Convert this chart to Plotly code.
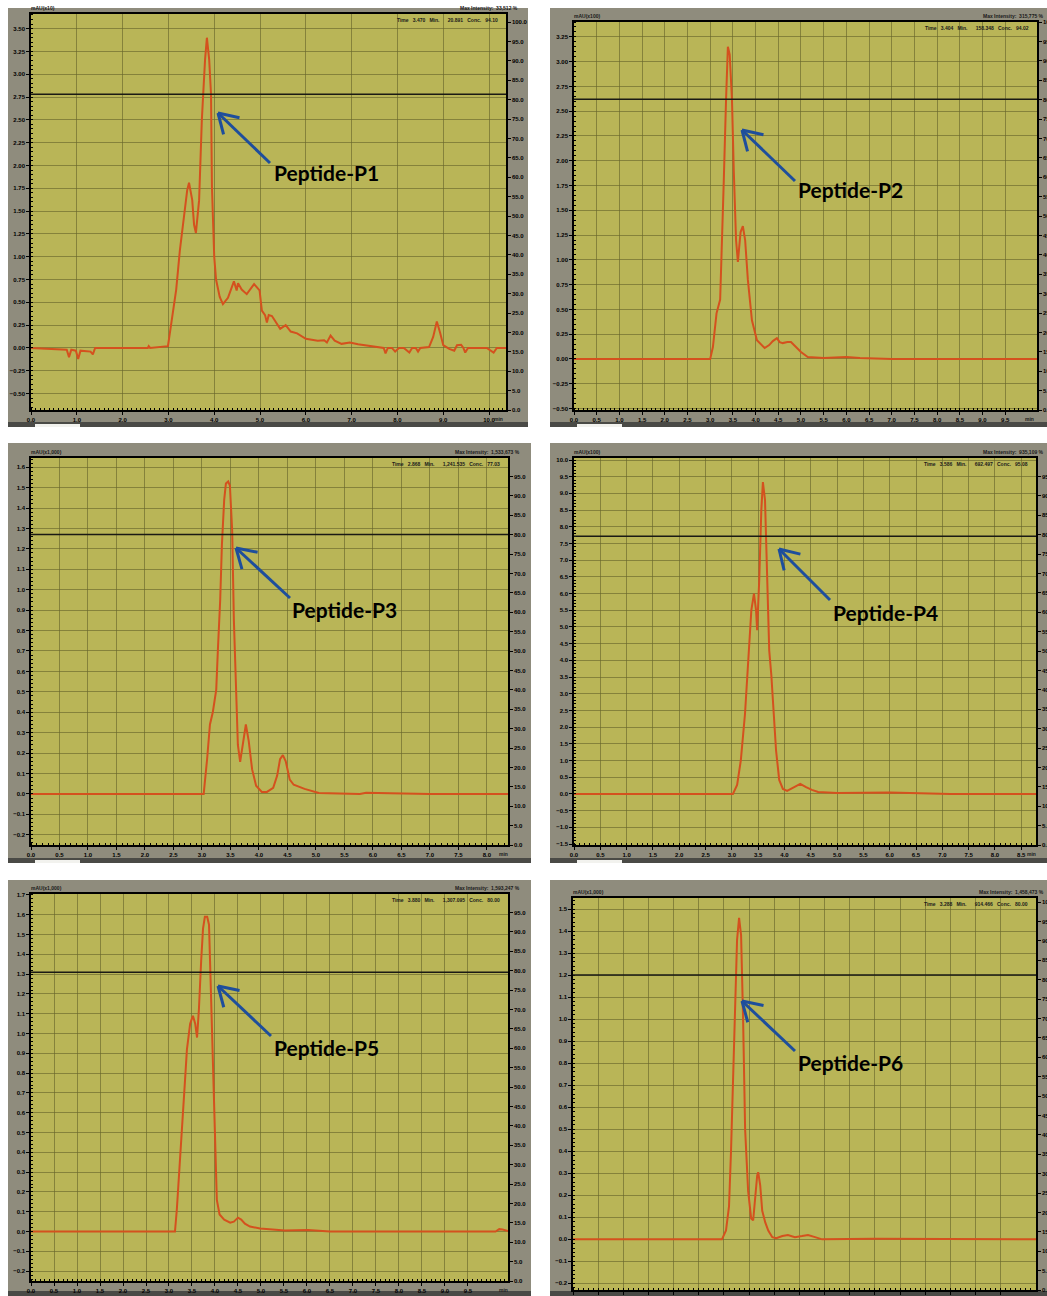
import math
import plotly.graph_objects as go

W, H = 1047, 1296

# ---- chromatogram data: retention time (min) and detector signal ----
p1_time = [0.0, 0.5, 0.78, 0.83, 0.88, 0.98, 1.03, 1.08, 1.3, 1.35, 1.4, 2.0, 2.55, 2.57, 2.6, 2.99,
           3.08, 3.17, 3.25, 3.34, 3.41, 3.45, 3.52, 3.56, 3.6, 3.67, 3.73, 3.8, 3.84, 3.89, 3.93,
           3.95, 4.0, 4.04, 4.12, 4.19, 4.3, 4.43, 4.49, 4.52, 4.6, 4.71, 4.87, 4.99, 5.04, 5.11,
           5.15, 5.19, 5.26, 5.44, 5.56, 5.67, 5.81, 6.0, 6.26, 6.4, 6.46, 6.54, 6.63, 6.78, 6.96,
           7.14, 7.44, 7.7, 7.74, 7.79, 7.88, 7.95, 8.03, 8.14, 8.26, 8.32, 8.4, 8.45, 8.5, 8.69,
           8.78, 8.86, 8.93, 9.0, 9.13, 9.24, 9.3, 9.39, 9.44, 9.48, 9.54, 9.95, 10.1, 10.17, 10.37]
p1_signal = [0.0, -0.01, -0.02, -0.1, -0.02, -0.03, -0.12, -0.03, -0.04, -0.07, 0.0, 0.0, 0.0, 0.02, 0.0, 0.02,
             0.31, 0.64, 1.07, 1.46, 1.73, 1.81, 1.62, 1.35, 1.26, 1.62, 2.5, 3.16, 3.4, 3.16, 2.78,
             1.77, 1.0, 0.75, 0.56, 0.48, 0.55, 0.73, 0.63, 0.71, 0.64, 0.59, 0.7, 0.63, 0.41, 0.36,
             0.28, 0.36, 0.35, 0.21, 0.25, 0.18, 0.16, 0.1, 0.08, 0.085, 0.06, 0.135, 0.08, 0.045, 0.06,
             0.04, 0.02, 0.0, -0.06, 0.0, 0.0, -0.04, 0.0, 0.0, -0.05, 0.0, 0.0, -0.04, 0.0, 0.01,
             0.12, 0.29, 0.17, 0.03, -0.01, -0.03, 0.03, 0.035, 0.0, -0.05, 0.0, 0.0, -0.05, 0.0, 0.0]

p2_time = [0.0, 3.0, 3.06, 3.14, 3.22, 3.26, 3.3, 3.35, 3.39, 3.43, 3.48, 3.52, 3.57, 3.61, 3.67,
           3.72, 3.77, 3.83, 3.92, 4.03, 4.2, 4.3, 4.38, 4.47, 4.53, 4.6, 4.7, 4.78, 4.9, 5.0, 5.15,
           5.5, 6.0, 6.3, 7.0, 9.0, 9.3, 10.2]
p2_signal = [0.0, 0.0, 0.12, 0.46, 0.6, 1.1, 1.8, 2.62, 3.15, 3.07, 2.62, 1.9, 1.2, 0.98, 1.28,
             1.34, 1.2, 0.8, 0.39, 0.19, 0.11, 0.14, 0.18, 0.21, 0.17, 0.16, 0.17, 0.17, 0.12, 0.07, 0.02,
             0.01, 0.02, 0.01, 0.0, 0.0, 0.005, 0.0]

p3_time = [0.0, 3.03, 3.09, 3.14, 3.19, 3.25, 3.28, 3.32, 3.35, 3.39, 3.42, 3.46, 3.49, 3.53, 3.56,
           3.6, 3.63, 3.67, 3.72, 3.77, 3.82, 3.88, 3.95, 4.05, 4.14, 4.25, 4.32, 4.37, 4.42, 4.47,
           4.54, 4.61, 4.8, 5.05, 5.77, 5.88, 6.3, 7.0, 8.37]
p3_signal = [0.0, 0.0, 0.17, 0.34, 0.4, 0.51, 0.71, 0.95, 1.22, 1.44, 1.52, 1.53, 1.51, 1.29, 0.85,
             0.46, 0.24, 0.157, 0.26, 0.34, 0.26, 0.12, 0.04, 0.01, 0.01, 0.03, 0.09, 0.17, 0.19, 0.16,
             0.07, 0.045, 0.025, 0.005, 0.0, 0.006, 0.004, 0.0, 0.0]

p4_time = [0.0, 3.02, 3.1, 3.17, 3.25, 3.31, 3.37, 3.42, 3.46, 3.48, 3.52, 3.56, 3.59, 3.63, 3.67,
           3.71, 3.75, 3.78, 3.84, 3.9, 3.97, 4.05, 4.16, 4.3, 4.41, 4.52, 4.64, 5.0, 6.0, 6.5, 7.15, 8.78]
p4_signal = [0.0, 0.0, 0.27, 1.0, 2.4, 4.0, 5.5, 6.0, 5.5, 4.9, 6.4, 8.5, 9.34, 8.8, 6.4,
             4.3, 3.56, 2.8, 1.3, 0.42, 0.15, 0.09, 0.18, 0.3, 0.2, 0.12, 0.06, 0.03, 0.04, 0.03, 0.0, 0.0]

p5_time = [0.0, 3.13, 3.17, 3.22, 3.26, 3.3, 3.35, 3.39, 3.46, 3.52, 3.57, 3.61, 3.65, 3.7, 3.74,
           3.78, 3.83, 3.87, 3.91, 3.96, 4.0, 4.04, 4.1, 4.2, 4.33, 4.41, 4.5, 4.57, 4.65, 4.76, 4.98,
           5.52, 6.02, 6.5, 10.1, 10.18, 10.25, 10.37]
p5_signal = [0.0, 0.0, 0.11, 0.31, 0.46, 0.57, 0.77, 0.92, 1.05, 1.09, 1.05, 0.98, 1.12, 1.37, 1.53,
             1.59, 1.59, 1.55, 1.22, 0.77, 0.36, 0.16, 0.086, 0.06, 0.045, 0.05, 0.07, 0.06, 0.04, 0.025, 0.015,
             0.005, 0.008, 0.0, 0.0, 0.012, 0.01, 0.003]

p6_time = [0.0, 2.96, 3.04, 3.1, 3.14, 3.18, 3.22, 3.26, 3.3, 3.34, 3.38, 3.42, 3.48, 3.54, 3.58,
           3.62, 3.66, 3.68, 3.72, 3.76, 3.82, 3.88, 3.96, 4.04, 4.16, 4.27, 4.41, 4.55, 4.67, 4.81,
           4.95, 6.0, 8.0, 9.2]
p6_signal = [0.0, 0.0, 0.04, 0.15, 0.4, 0.72, 1.09, 1.36, 1.46, 1.38, 1.0, 0.5, 0.22, 0.095, 0.086,
             0.2, 0.29, 0.305, 0.245, 0.13, 0.077, 0.04, 0.01, 0.005, 0.015, 0.02, 0.01, 0.015, 0.02, 0.01,
             0.0, 0.003, 0.0, 0.0]

times = [p1_time, p2_time, p3_time, p4_time, p5_time, p6_time]
signals = [p1_signal, p2_signal, p3_signal, p4_signal, p5_signal, p6_signal]

# level of the horizontal cursor line in each run
cursor_levels = [2.78, 2.62, 1.27, 7.72, 1.31, 1.20]

peptide_labels = ["Peptide-P1", "Peptide-P2", "Peptide-P3", "Peptide-P4", "Peptide-P5", "Peptide-P6"]
y_titles = ["mAU(x10)", "mAU(x100)", "mAU(x1,000)", "mAU(x100)", "mAU(x1,000)", "mAU(x1,000)"]
header_max = ["Max Intensity:  33,512 %", "Max Intensity:  315,775 %", "Max Intensity:  1,533,673 %",
              "Max Intensity:  935,109 %", "Max Intensity:  1,593,247 %", "Max Intensity:  1,458,473 %"]
header_time = ["Time   3.470   Min.      20.891   Conc.   94.10",
               "Time   3.404   Min.      158.348   Conc.   94.02",
               "Time   2.868   Min.      1,241.535   Conc.   77.03",
               "Time   3.586   Min.      692.497   Conc.   95.08",
               "Time   3.880   Min.      1,307.095   Conc.   80.00",
               "Time   3.288   Min.      914.466   Conc.   80.00"]

# time-axis labelling: spacing and last labelled value of each run
x_steps = [1.0, 0.5, 0.5, 0.5, 0.5, 0.5]
x_last_tick = [10.0, 9.5, 8.0, 8.5, 9.5, 8.5]

# ---- panel geometry in page pixels ----
plot_boxes = [(31, 14, 506, 410), (574, 22, 1037, 410),
              (31, 458, 508, 845), (574, 458, 1036, 845),
              (31, 894, 508, 1281), (573, 898, 1036, 1290)]
frame_boxes = [(8, 8, 528, 427), (550, 8, 1047, 427),
               (8, 443, 531, 863), (550, 443, 1047, 863),
               (8, 880, 531, 1296), (550, 880, 1047, 1296)]
x_ranges = [(0, 10.37), (0, 10.2), (0, 8.37), (0, 8.78), (0, 10.37), (0, 9.2)]
y_ranges = [(-0.68, 3.66), (-0.515, 3.40), (-0.25, 1.645), (-1.53, 10.06), (-0.25, 1.705), (-0.23, 1.55)]
y_steps = [0.25, 0.25, 0.1, 0.5, 0.1, 0.1]
y_formats = [".2f", ".2f", ".1f", ".1f", ".1f", ".1f"]
min_label_x = [498, 1029, 503, 1031, 503, 1027]
arrows = [((270, 163), (218, 113)), ((795, 181), (742, 130)),
          ((290, 598), (236, 548)), ((830, 600), (779, 549)),
          ((271, 1036), (218, 986)), ((795, 1051), (742, 1001))]
label_pos = [(272, 173), (796, 190), (290, 609), (831, 612), (272, 1047), (796, 1062)]

PLOT_BG = "#B9B557"
FRAME = "#8F8C7D"
GRID = "rgba(105,103,45,0.65)"
TRACE = "#D4511E"
ARROW = "#1E4E9C"


def px(x):
    return x / W


def py(y):
    return 1 - y / H


fig = go.Figure()
layout = dict(width=W, height=H, margin=dict(l=0, r=0, t=0, b=0),
              paper_bgcolor="white", plot_bgcolor=PLOT_BG, showlegend=False)
shapes = []
annotations = []
tick_font = dict(family="Liberation Sans, Arial", size=6, color="black", weight="bold")
small = dict(family="Liberation Sans, Arial", size=5, color="#1A1A1A", weight="bold")

for i in range(6):
    n = i + 1
    xs = "" if n == 1 else str(n)
    x0, y0, x1, y1 = plot_boxes[i]
    fx0, fy0, fx1, fy1 = frame_boxes[i]

    # grey instrument-window frame, dark status bar with its light tab, and the yellow chart area
    shapes.append(dict(type="rect", xref="paper", yref="paper", layer="below",
                       x0=px(fx0), x1=px(fx1), y0=py(fy1), y1=py(fy0),
                       fillcolor=FRAME, line=dict(width=0)))
    shapes.append(dict(type="rect", xref="paper", yref="paper", layer="below",
                       x0=px(fx0), x1=px(fx1), y0=py(fy1), y1=py(fy1 - 5),
                       fillcolor="#4A4A46", line=dict(width=0)))
    if fy1 < H:
        shapes.append(dict(type="rect", xref="paper", yref="paper", layer="below",
                           x0=px(fx0 + 27), x1=px(fx0 + 72), y0=py(fy1), y1=py(fy1 - 3),
                           fillcolor="#F2F2EE", line=dict(width=0)))
    shapes.append(dict(type="rect", xref="paper", yref="paper", layer="below",
                       x0=px(x0), x1=px(x1), y0=py(y1), y1=py(y0),
                       fillcolor=PLOT_BG, line=dict(width=0)))

    nt = int(round(x_last_tick[i] / x_steps[i]))
    tvals = [round(k * x_steps[i], 2) for k in range(nt + 1)]
    layout["xaxis" + xs] = dict(
        domain=[px(x0), px(x1)], anchor="y" + xs, range=list(x_ranges[i]),
        tickmode="array", tickvals=tvals, ticktext=[f"{v:.1f}" for v in tvals],
        showgrid=True, gridcolor=GRID, gridwidth=1, zeroline=False, automargin=False,
        showline=True, linecolor="black", linewidth=1.5, mirror=True,
        ticks="outside", ticklen=3, tickcolor="black", tickfont=tick_font,
        minor=dict(ticks="inside", ticklen=2, tickmode="linear", tick0=0, dtick=0.1,
                   tickcolor="black", showgrid=False),
        fixedrange=True)
    layout["yaxis" + xs] = dict(
        domain=[py(y1), py(y0)], anchor="x" + xs, range=list(y_ranges[i]),
        dtick=y_steps[i], tick0=0, tickformat=y_formats[i],
        showgrid=True, gridcolor=GRID, gridwidth=1, zeroline=False, automargin=False,
        showline=True, linecolor="black", linewidth=1.5,
        ticks="outside", ticklen=3, tickcolor="black", tickfont=tick_font,
        minor=dict(ticks="inside", ticklen=2, dtick=y_steps[i] / 5, tickcolor="black", showgrid=False),
        fixedrange=True)
    # percentage scale on the right-hand side
    pct_top = (y1 - y0) / 3.88
    layout["yaxis" + str(n + 6)] = dict(
        overlaying="y" + xs, side="right", anchor="x" + xs, range=[0, pct_top],
        dtick=5, tick0=0, tickformat=".1f", showgrid=False, zeroline=False, automargin=False,
        showline=True, linecolor="black", linewidth=1.5,
        ticks="outside", ticklen=3, tickcolor="black", tickfont=tick_font,
        fixedrange=True)

    fig.add_trace(go.Scatter(x=times[i], y=signals[i], mode="lines",
                             line=dict(color=TRACE, width=2),
                             xaxis="x" + xs, yaxis="y" + xs, hoverinfo="skip"))
    fig.add_trace(go.Scatter(x=[0], y=[0], mode="markers", marker=dict(opacity=0),
                             xaxis="x" + xs, yaxis="y" + str(n + 6), hoverinfo="skip"))

    # horizontal cursor line
    shapes.append(dict(type="line", xref="x" + xs + " domain", yref="y" + xs,
                       x0=0, x1=1, y0=cursor_levels[i], y1=cursor_levels[i],
                       line=dict(color="#1A1A14", width=1.5)))

    # arrow pointing at the peptide peak
    (tx, ty), (hx, hy) = arrows[i]
    shapes.append(dict(type="path", xref="paper", yref="paper",
                       path=f"M {px(tx)},{py(ty)} L {px(hx)},{py(hy)}",
                       line=dict(color=ARROW, width=3)))
    ang = math.atan2(ty - hy, tx - hx)
    for da in (-0.55, 0.55):
        ex = hx + 22 * math.cos(ang + da)
        ey = hy + 22 * math.sin(ang + da)
        shapes.append(dict(type="path", xref="paper", yref="paper",
                           path=f"M {px(ex)},{py(ey)} L {px(hx)},{py(hy)}",
                           line=dict(color=ARROW, width=3)))

    lx, ly = label_pos[i]
    annotations.append(dict(text=peptide_labels[i], x=px(lx), y=py(ly), xref="paper", yref="paper",
                            xanchor="left", yanchor="middle", showarrow=False,
                            font=dict(family="Lato, sans-serif", size=21, color="black",
                                      weight="bold")))

    # small instrument texts
    annotations.append(dict(text=y_titles[i], x=px(x0 - 2), y=py(y0 - 1), xref="paper", yref="paper",
                            xanchor="left", yanchor="bottom", showarrow=False, font=small))
    annotations.append(dict(text=header_max[i], x=px(min(x1 + 14, W - 1)), y=py(y0 - 1),
                            xref="paper", yref="paper",
                            xanchor="right", yanchor="bottom", showarrow=False, font=small))
    annotations.append(dict(text=header_time[i], x=px(x1 - 6), y=py(y0 + 1), xref="paper", yref="paper",
                            xanchor="right", yanchor="top", showarrow=False, font=small))
    annotations.append(dict(text="min", x=px(min_label_x[i]), y=py(y1 + 4), xref="paper", yref="paper",
                            xanchor="center", yanchor="top", showarrow=False, font=small))

layout["shapes"] = shapes
layout["annotations"] = annotations
fig.update_layout(**layout)
fig.write_html("out.html")
